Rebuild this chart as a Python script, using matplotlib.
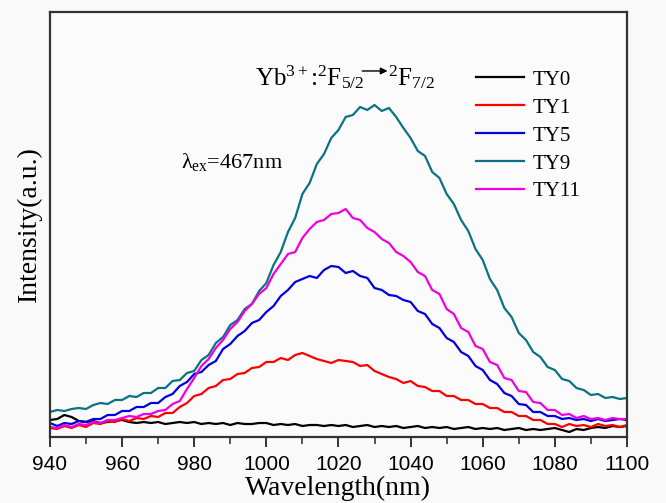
import numpy as np
import matplotlib
matplotlib.use("Agg")
import matplotlib.pyplot as plt
from matplotlib import font_manager

# emission spectra, intensity in arbitrary units, 2 nm steps
wavelength = np.arange(940, 1101, 2)

ty0 = [17,18,22,20,16,15,16,14,15,16,
       17,15,14,15,14,15,13,14,15,14,
       15,13,14,13,14,12,14,13,13,14,
       14,12,13,12,13,11,12,12,11,12,
       11,12,10,11,12,10,11,10,11,9,
       10,11,9,10,9,10,8,9,10,8,
       9,8,9,7,8,9,7,8,7,8,
       9,7,5,8,7,9,10,9,11,10,
       11]
ty1 = [9,8,11,9,12,10,14,13,16,15,
       18,16,19,18,21,20,24,24,30,34,
       41,43,49,51,57,58,63,64,69,70,
       75,75,79,77,82,84,81,78,76,74,
       77,76,75,71,72,66,63,60,58,54,
       56,51,50,46,46,41,41,37,37,33,
       33,29,29,25,25,21,21,17,17,13,
       13,10,13,11,12,10,13,11,12,10,
       12]
ty5 = [14,11,14,13,16,15,18,18,22,22,
       26,26,30,30,34,34,40,43,51,55,
       63,65,72,76,88,93,101,106,114,117,
       125,131,141,147,155,158,161,159,167,171,
       170,164,166,161,159,149,147,142,141,137,
       135,126,123,113,109,99,95,85,81,71,
       67,57,53,44,41,33,32,25,25,21,
       21,18,19,17,18,16,18,16,17,18,
       17]
ty9 = [25,27,26,28,29,28,32,34,33,37,
       37,41,40,44,44,49,49,56,57,64,
       66,77,82,94,100,112,117,128,133,146,
       154,172,185,205,219,243,254,273,283,299,
       307,320,322,330,327,332,326,329,320,309,
       299,286,281,265,259,243,233,217,206,188,
       177,158,147,129,120,104,97,85,80,70,
       67,58,56,49,47,42,43,39,40,38,
       39]
ty11 = [10,9,12,10,13,12,15,14,17,17,
        19,21,20,23,23,26,27,33,36,48,
        59,71,78,89,97,108,115,126,133,143,
        149,163,173,183,185,199,208,215,217,223,
        224,228,219,217,209,205,198,194,185,181,
        175,165,161,147,143,128,123,109,105,91,
        88,75,72,59,57,46,45,35,34,27,
        27,22,23,19,21,18,19,17,19,18,
        18]

labels = ["TY0", "TY1", "TY5", "TY9", "TY11"]
colors = ["black", "#ff0000", "#0000e0", "#0a7282", "#f000e0"]
xticks = [940, 960, 980, 1000, 1020, 1040, 1060, 1080, 1100]

plt.rcParams["font.family"] = ["Liberation Serif", "DejaVu Serif"]
plt.rcParams["mathtext.fontset"] = "custom"
plt.rcParams["mathtext.rm"] = "Liberation Serif"
plt.rcParams["mathtext.it"] = "Liberation Serif"

names = {f.name for f in font_manager.fontManager.ttflist}
if "Liberation Sans Narrow" in names:
    tickfont = dict(family="Liberation Sans Narrow", size=17)
else:
    tickfont = dict(family="Liberation Sans", size=15)

fig = plt.figure(figsize=(6.66, 5.03), dpi=100, facecolor="#f9f9f9")
ax = fig.add_axes([0.075, 0.1312, 0.8664, 0.845], facecolor="#fbfbfb")

series = [ty0, ty1, ty5, ty9, ty11]
for y, lab, c in zip(series, labels, colors):
    ax.plot(wavelength, y, color=c, lw=1.6, label=lab)

ax.set_xlim(940, 1100)
ax.set_ylim(0, 425)
ax.set_xticks(xticks)
ax.set_xticks(np.arange(950, 1100, 20), minor=True)
ax.set_yticks([])
ax.tick_params(axis="x", which="major", direction="out", length=7, width=1.4,
               color="#333333", pad=6)
ax.tick_params(axis="x", which="minor", direction="out", length=5, width=1.2,
               color="#333333")
for lbl in ax.get_xticklabels():
    lbl.set_fontfamily(tickfont["family"])
    lbl.set_fontsize(tickfont["size"])
for s in ax.spines.values():
    s.set_linewidth(1.6)
    s.set_color("#333333")

ax.set_xlabel("Wavelength(nm)", fontsize=20, labelpad=1)
ax.set_ylabel("Intensity(a.u.)", fontsize=20, labelpad=6)

ax.legend(loc="upper left", bbox_to_anchor=(0.738, 0.863), frameon=False,
          fontsize=15, handlelength=2.3, handletextpad=0.45,
          labelspacing=0.4, borderpad=0, borderaxespad=0)

ax.text(996.9, 352, r"Yb$^{3+}$:$^{2}$F$_{5/2}$", fontsize=18,
        ha="left", va="baseline")
ax.annotate("", xy=(1033.6, 366), xytext=(1026.6, 366),
            arrowprops=dict(arrowstyle="-|>", color="black", lw=1.0,
                            mutation_scale=10, shrinkA=0, shrinkB=0))
ax.text(1033.8, 352, r"$^{2}$F$_{7/2}$", fontsize=18, ha="left", va="baseline")
ax.text(976.3, 269, r"$\lambda_{\rm ex}$=467nm", fontsize=16,
        ha="left", va="baseline")

fig.savefig("out.png", dpi=100, facecolor=fig.get_facecolor())
